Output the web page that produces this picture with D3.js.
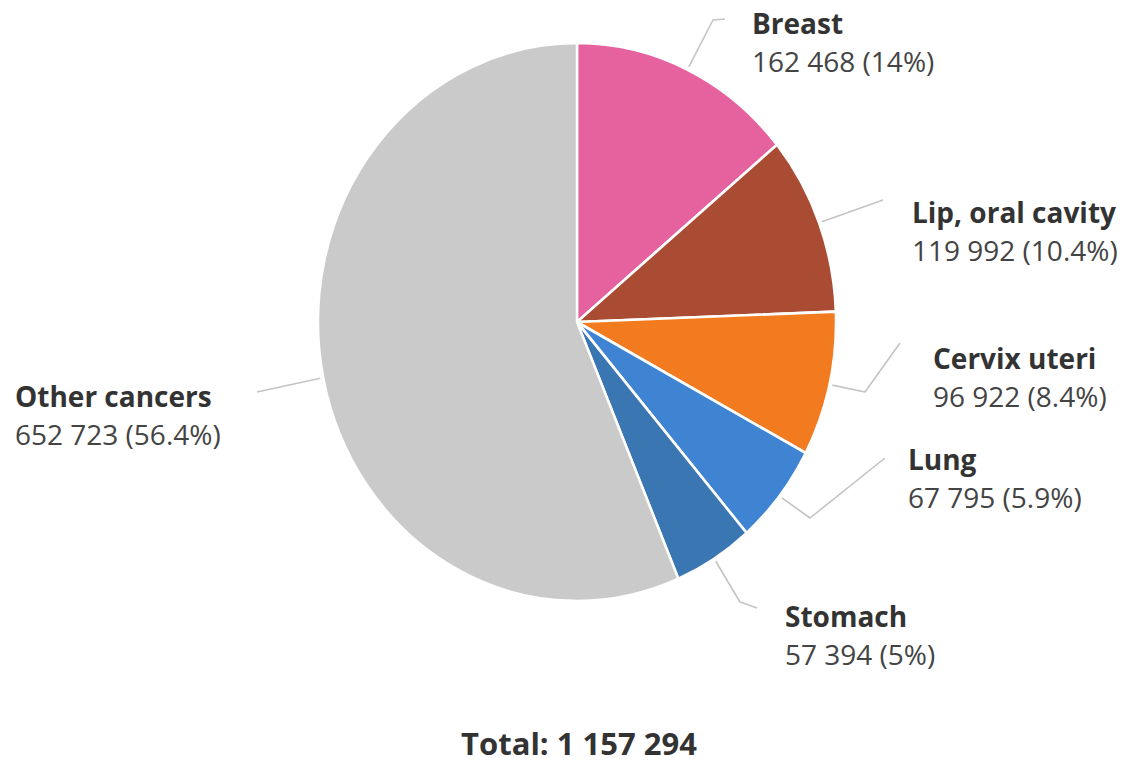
<!DOCTYPE html>
<html>
<head>
<meta charset="utf-8">
<script src="https://cdn.jsdelivr.net/npm/d3@7"></script>
<style>
  body { margin: 0; background: #fff; }
  text { font-family: "Open Sans", "Noto Sans", sans-serif; }
</style>
</head>
<body>
<svg id="chart" width="1128" height="766"></svg>
<script>
// data
const sites = ['Breast', 'Lip, oral cavity', 'Cervix uteri', 'Lung', 'Stomach', 'Other cancers']
const cases = [162468, 119992, 96922, 67795, 57394, 652723]
const shares = ['14%', '10.4%', '8.4%', '5.9%', '5%', '56.4%']
const colors = ['#e6629f', '#a94c33', '#f27a1f', '#3f83d3', '#3a76b2', '#cacaca']
const totalLabel = 'Total: 1 157 294'

// layout
const width = 1128, height = 766
const cx = 577, cy = 322
const rx = 259, ry = 279

// label anchors: x, baseline of title; leader elbow / end relative to anchor
const labelPos = {
    'Breast':           { x: 752, y: 34,  elbow: [-39, -14], end: [-27, -15] },
    'Lip, oral cavity': { x: 912, y: 223, elbow: null,       end: [-29, -23] },
    'Cervix uteri':     { x: 933, y: 369, elbow: [-68, 23],  end: [-33, -26] },
    'Lung':             { x: 908, y: 470, elbow: [-98, 48],  end: [-23, -12] },
    'Stomach':          { x: 785, y: 627, elbow: [-45, -25], end: [-28, -19] },
    'Other cancers':    { x: 15,  y: 407, elbow: null,       end: [242, -15] }
}

const fmt = v => d3.format(',')(v).replace(/,/g, ' ')

const svg = d3.select('#chart')

const rows = sites.map((s, i) => ({ name: s, value: cases[i], share: shares[i], color: colors[i] }))

const pie = d3.pie().sort(null).value(d => d.value)
const arcs = pie(rows)

const arc = d3.arc().innerRadius(0).outerRadius(rx)

const pieG = svg.append('g')
    .attr('transform', `translate(${cx},${cy}) scale(1,${ry / rx})`)

pieG.selectAll('path')
    .data(arcs)
    .enter()
    .append('path')
    .attr('d', arc)
    .style('fill', d => d.data.color)
    .style('stroke', '#fff')
    .style('stroke-width', 2.5)
    .style('stroke-linejoin', 'round')

// leader lines
const line = d3.line()
arcs.forEach(d => {
    const p = labelPos[d.data.name]
    const a = (d.startAngle + d.endAngle) / 2
    const start = [cx + (rx + 3) * Math.sin(a), cy - (ry + 3) * Math.cos(a)]
    const pts = [start]
    if (p.elbow) pts.push([p.x + p.elbow[0], p.y + p.elbow[1]])
    pts.push([p.x + p.end[0], p.y + p.end[1]])
    svg.append('path')
        .attr('d', line(pts))
        .style('fill', 'none')
        .style('stroke', '#c4c4c4')
        .style('stroke-width', 1.6)
        .style('stroke-linejoin', 'round')
})

// labels
const labels = svg.selectAll('.slice-label')
    .data(arcs)
    .enter()
    .append('g')
    .attr('class', 'slice-label')
    .attr('transform', d => `translate(${labelPos[d.data.name].x},${labelPos[d.data.name].y})`)

labels.append('text')
    .style('font-size', '28px')
    .style('font-weight', 700)
    .style('fill', '#333')
    .text(d => d.data.name)

labels.append('text')
    .attr('y', 38)
    .style('font-size', '28px')
    .style('fill', '#444')
    .text(d => `${fmt(d.data.value)} (${d.data.share})`)

svg.append('text')
    .attr('x', 579)
    .attr('y', 755)
    .attr('text-anchor', 'middle')
    .style('font-size', '31px')
    .style('font-weight', 700)
    .style('fill', '#333')
    .text(totalLabel)
</script>
</body>
</html>
